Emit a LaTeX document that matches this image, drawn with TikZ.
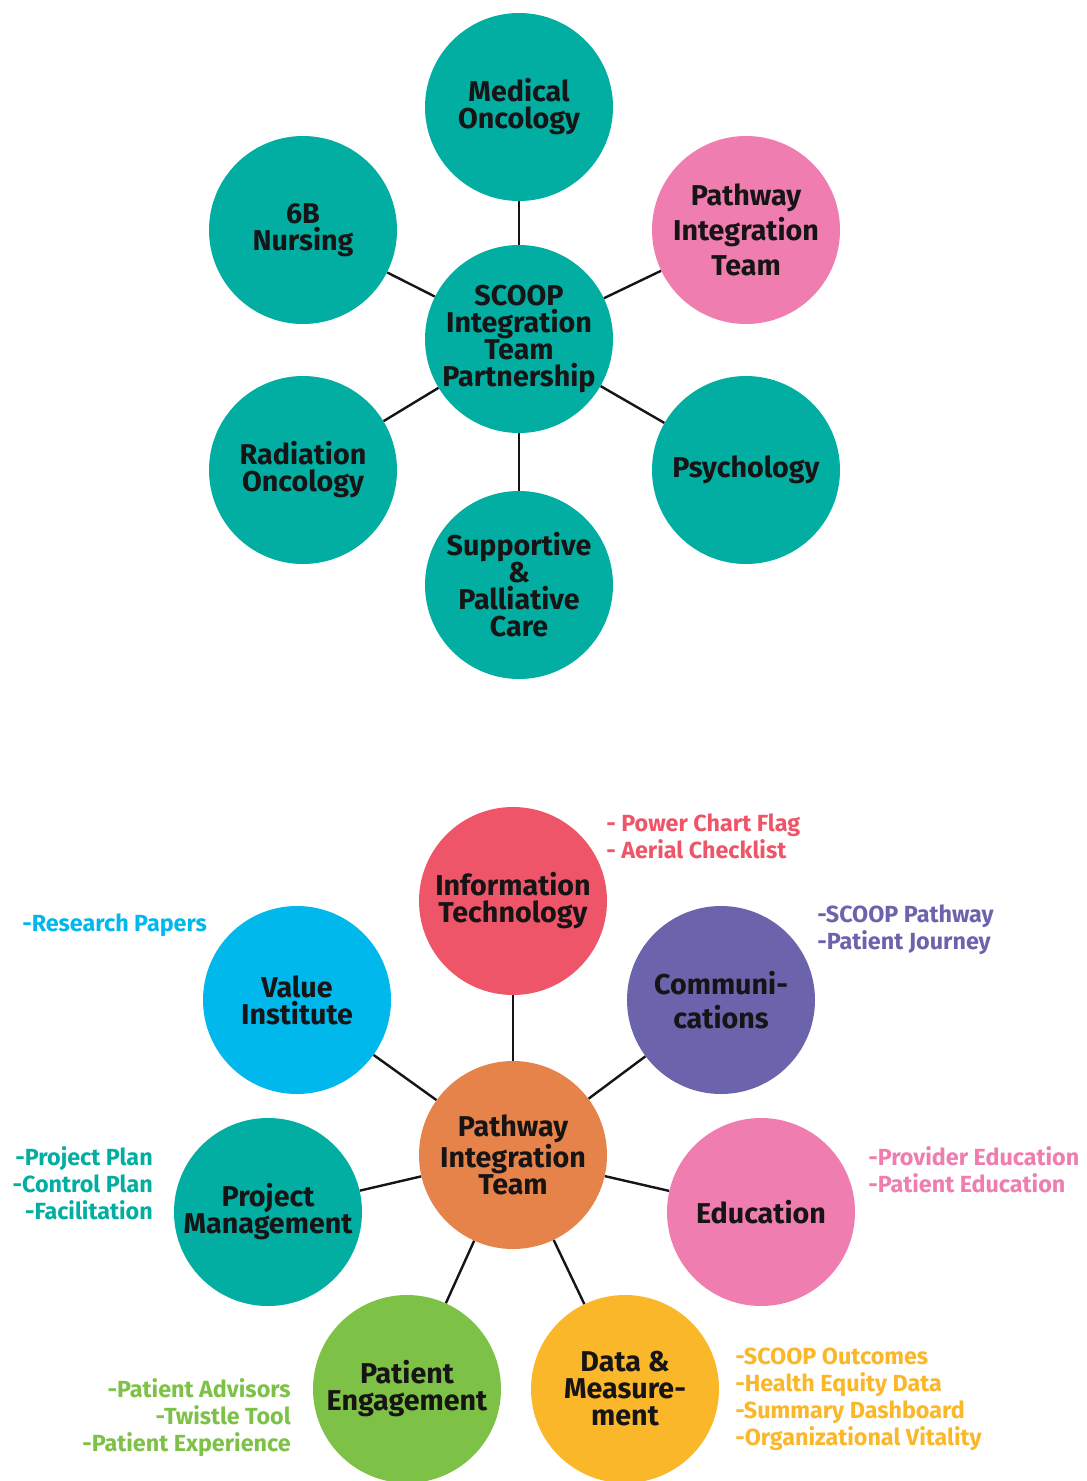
\documentclass[tikz,border=0pt]{standalone}
\usepackage{fontspec}
\setmainfont{Fira Sans}
\usepackage{tikz}
\usetikzlibrary{positioning}
\definecolor{teamteal}{RGB}{2,173,162}
\definecolor{teampink}{RGB}{240,125,176}
\definecolor{teamred}{RGB}{239,85,104}
\definecolor{teamcyan}{RGB}{0,184,235}
\definecolor{teampurple}{RGB}{107,100,172}
\definecolor{teamorange}{RGB}{230,131,74}
\definecolor{teamgreen}{RGB}{125,194,70}
\definecolor{teamyellow}{RGB}{251,183,42}
\definecolor{inkblack}{RGB}{22,20,21}
\tikzstyle{bubble} = [circle, fill=teamteal, minimum size=141pt, inner sep=0pt,
    align=center, text=inkblack, font=\bfseries\fontsize{21.5}{20.25}\selectfont]
\tikzstyle{wide} = [font=\bfseries\fontsize{21.5}{26}\selectfont]
\tikzstyle{link} = [line width=1.8pt, draw=inkblack]
\tikzstyle{note} = [inner sep=0pt, font=\bfseries\fontsize{17.5}{20.25}\selectfont]

\begin{document}
\begin{tikzpicture}[x=0.75pt, y=-0.75pt]
  \fill[white] (0,0) rectangle (1086,1481);
  \useasboundingbox (0,0) rectangle (1086,1481);

  % SCOOP partnership
  \node [bubble] (scoop) at (519,339) {SCOOP\\Integration\\Team\\Partnership};
  \node [bubble] (medonc) at (519,107) {Medical\\Oncology};
  \node [bubble, fill=teampink, wide] (pit) at (746,230) {Pathway\\Integration\\Team};
  \node [bubble] (nursing) at (303,230) {6B\\Nursing};
  \node [bubble] (radonc) at (303,470) {Radiation\\Oncology};
  \node [bubble] (psych) at (746,470) {Psychology};
  \node [bubble] (palliative) at (519,585) {Supportive\\\&\\Palliative\\Care};

  \path[link] (scoop) edge (medonc);
  \path[link] (scoop) edge (pit);
  \path[link] (scoop) edge (nursing);
  \path[link] (scoop) edge (radonc);
  \path[link] (scoop) edge (psych);
  \path[link] (scoop) edge (palliative);

  % Pathway integration team
  \node [bubble, fill=teamorange] (hub) at (513,1155) {Pathway\\Integration\\Team};
  \node [bubble, fill=teamred] (infotech) at (513,901) {Information\\Technology};
  \node [bubble, fill=teamcyan] (value) at (297,1000) {Value\\Institute};
  \node [bubble, fill=teampurple, wide] (comms) at (721,1000) {Communi-\\cations};
  \node [bubble] (projman) at (268,1212) {Project\\Management};
  \node [bubble, fill=teampink] (educ) at (761,1212) {Education};
  \node [bubble, fill=teamgreen] (engage) at (407,1389) {Patient\\Engagement};
  \node [bubble, fill=teamyellow] (data) at (625,1389) {Data \&\\Measure-\\ment};

  \path[link] (hub) edge (infotech);
  \path[link] (hub) edge (value);
  \path[link] (hub) edge (comms);
  \path[link] (hub) edge (projman);
  \path[link] (hub) edge (educ);
  \path[link] (hub) edge (engage);
  \path[link] (hub) edge (data);

  \node [note, text=teamred, anchor=west, align=left] (itnote) at (606,836)
    {- Power Chart Flag\\- Aerial Checklist};
  \node [note, text=teamcyan, anchor=west, align=left] (valuenote) at (22,925)
    {-Research Papers};
  \node [note, text=teampurple, anchor=west, align=left] (commsnote) at (817,930)
    {-SCOOP Pathway\\-Patient Journey};
  \node [note, text=teamteal, anchor=east, align=right] (projnote) at (153,1183)
    {-Project Plan\\-Control Plan\\-Facilitation};
  \node [note, text=teampink, anchor=west, align=left] (educnote) at (868,1170)
    {-Provider Education\\-Patient Education};
  \node [note, text=teamgreen, anchor=east, align=right] (engagenote) at (291,1418)
    {-Patient Advisors\\-Twistle Tool\\-Patient Experience};
  \node [note, text=teamyellow, anchor=west, align=left] (datanote) at (735,1399)
    {-SCOOP Outcomes\\-Health Equity Data\\-Summary Dashboard\\-Organizational Vitality};
\end{tikzpicture}
\end{document}
